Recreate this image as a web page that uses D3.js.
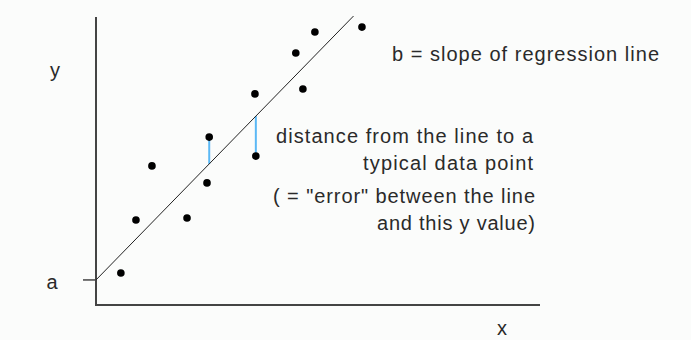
<!DOCTYPE html>
<html>
<head>
<meta charset="utf-8">
<script src="https://cdn.jsdelivr.net/npm/d3@7"></script>
<style>
  body { margin: 0; background: #fbfcfb; }
  text { font-family: "Liberation Sans", Arial, sans-serif; fill: #2a2a2a; }
</style>
</head>
<body>
<div id="chart"></div>
<script>
// data points (arbitrary units, 0-100 on both axes)
var xVals = [5.6, 9.0, 12.6, 20.5, 25.0, 25.5, 35.8, 36.0, 45.0, 46.6, 49.3, 59.9];
var yVals = [11.1, 29.5, 48.3, 30.2, 42.4, 58.3, 73.3, 51.7, 87.5, 75.0, 94.8, 96.5];
var intercept = 8.7;   // a
var slope = 1.58;      // b
var lineEnd = 58;
var errorIdx = [5, 7]; // points that get the blue "error" segment

var notes = [
  {text: "b = slope of regression line", x: 392, y: 61, len: 267, anchor: "start"},
  {text: "distance from the line to a", x: 533, y: 143, len: 257, anchor: "end"},
  {text: "typical data point", x: 533, y: 170, len: 170, anchor: "end"},
  {text: "( = \"error\" between the line", x: 535, y: 203, len: 262, anchor: "end"},
  {text: "and this y value)", x: 535, y: 230, len: 158, anchor: "end"}
];

var width = 691, height = 340;

var svg = d3.select("#chart").append("svg")
    .attr("width", width)
    .attr("height", height);

var x = d3.scaleLinear().domain([0, 100]).range([96, 540]);
var y = d3.scaleLinear().domain([0, 100]).range([305, 17]);

var data = xVals.map(function(d, i) { return {x: d, y: yVals[i]}; });
function fit(v) { return intercept + slope * v; }

// axes
svg.append("path")
    .attr("d", "M" + x(0) + "," + y(100) + "V" + y(0) + "H" + x(100))
    .attr("fill", "none")
    .attr("stroke", "#444")
    .attr("stroke-width", 2);

// tick for a
svg.append("line")
    .attr("x1", x(0) - 13).attr("x2", x(0))
    .attr("y1", y(intercept)).attr("y2", y(intercept))
    .attr("stroke", "#444")
    .attr("stroke-width", 1.5);

// error segments
svg.selectAll(".err")
    .data(errorIdx.map(function(i) { return data[i]; }))
    .enter().append("line")
    .attr("class", "err")
    .attr("x1", function(d) { return x(d.x); })
    .attr("x2", function(d) { return x(d.x); })
    .attr("y1", function(d) { return y(d.y); })
    .attr("y2", function(d) { return y(fit(d.x)); })
    .attr("stroke", "#5bb8f5")
    .attr("stroke-width", 2);

// regression line
svg.append("line")
    .attr("x1", x(0)).attr("y1", y(fit(0)))
    .attr("x2", x(lineEnd)).attr("y2", y(fit(lineEnd)))
    .attr("stroke", "#222")
    .attr("stroke-width", 1);

// points
svg.selectAll(".dot")
    .data(data)
    .enter().append("circle")
    .attr("class", "dot")
    .attr("cx", function(d) { return x(d.x); })
    .attr("cy", function(d) { return y(d.y); })
    .attr("r", 3.8)
    .attr("fill", "#000");

// axis letters
svg.append("text").attr("x", 55).attr("y", 77).attr("text-anchor", "middle")
    .style("font-size", "20px").text("y");
svg.append("text").attr("x", 52).attr("y", 289).attr("text-anchor", "middle")
    .style("font-size", "20px").text("a");
svg.append("text").attr("x", 502).attr("y", 335).attr("text-anchor", "middle")
    .style("font-size", "20px").text("x");

// annotations
svg.selectAll(".note")
    .data(notes)
    .enter().append("text")
    .attr("class", "note")
    .attr("x", function(d) { return d.x; })
    .attr("y", function(d) { return d.y; })
    .attr("text-anchor", function(d) { return d.anchor; })
    .attr("textLength", function(d) { return d.len; })
    .attr("lengthAdjust", "spacing")
    .style("font-size", "20px")
    .text(function(d) { return d.text; });
</script>
</body>
</html>
